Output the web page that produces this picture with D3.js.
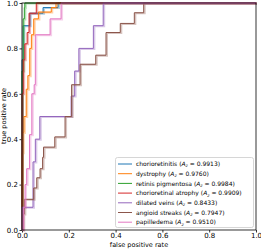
<!DOCTYPE html>
<html>
<head>
<meta charset="utf-8">
<script src="https://cdn.jsdelivr.net/npm/d3@7"></script>
<style>
  body { margin: 0; background: #fff; }
  text { font-family: "DejaVu Sans", sans-serif; }
</style>
</head>
<body>
<script>
const svgWidth = 261;
const svgHeight = 249;

// ROC curves as (fpr, tpr) staircases
const names = ["chorioretinitis", "dystrophy", "retinis pigmentosa", "chorioretinal atrophy",
    "dilated veins", "angioid streaks", "papilledema"];
const aucs = ["0.9913", "0.9760", "0.9984", "0.9909", "0.8433", "0.7947", "0.9510"];
const colors = ["#1f77b4", "#ff7f0e", "#2ca02c", "#d62728", "#9467bd", "#8c564b", "#e377c2"];

const fprBlue = [0, 0, 0.005, 0.005, 0.033, 0.033, 0.09, 0.09, 0.154, 0.154, 1];
const tprBlue = [0, 0.75, 0.75, 0.9, 0.9, 0.955, 0.955, 0.98, 0.98, 1, 1];
const fprOrange = [0, 0, 0.003, 0.003, 0.008, 0.008, 0.018, 0.018, 0.025, 0.025, 0.033, 0.033, 0.04, 0.04, 0.05, 0.05, 0.07, 0.07, 0.125, 0.125, 0.145, 0.145, 1];
const tprOrange = [0, 0.34, 0.34, 0.43, 0.43, 0.5, 0.5, 0.62, 0.62, 0.68, 0.68, 0.8, 0.8, 0.86, 0.86, 0.93, 0.93, 0.96, 0.96, 0.98, 0.98, 1, 1];
const fprGreen = [0, 0, 0.005, 0.005, 0.01, 0.01, 0.012, 0.012, 1];
const tprGreen = [0, 0.7, 0.7, 0.93, 0.93, 0.98, 0.98, 1, 1];
const fprRed = [0, 0, 0.005, 0.005, 0.012, 0.012, 0.022, 0.022, 0.03, 0.03, 0.061, 0.061, 1];
const tprRed = [0, 0.6, 0.6, 0.75, 0.75, 0.82, 0.82, 0.87, 0.87, 0.955, 0.955, 1, 1];
const fprPurple = [0, 0, 0.047, 0.047, 0.057, 0.057, 0.076, 0.076, 0.21, 0.21, 0.225, 0.225, 0.243, 0.243, 0.305, 0.305, 0.347, 0.347, 1];
const tprPurple = [0, 0.1, 0.1, 0.3, 0.3, 0.4, 0.4, 0.5, 0.5, 0.59, 0.59, 0.7, 0.7, 0.8, 0.8, 0.9, 0.9, 1, 1];
const fprBrown = [0, 0.005, 0.005, 0.01, 0.01, 0.05, 0.05, 0.063, 0.063, 0.077, 0.077, 0.088, 0.088, 0.092, 0.092, 0.14, 0.14, 0.184, 0.184, 0.212, 0.212, 0.248, 0.248, 0.315, 0.315, 0.359, 0.359, 0.42, 0.42, 0.48, 0.48, 0.52, 0.52, 1];
const tprBrown = [0, 0, 0.07, 0.07, 0.135, 0.135, 0.185, 0.185, 0.23, 0.23, 0.27, 0.27, 0.32, 0.32, 0.365, 0.365, 0.41, 0.41, 0.5, 0.5, 0.64, 0.64, 0.73, 0.73, 0.77, 0.77, 0.87, 0.87, 0.91, 0.91, 0.957, 0.957, 1, 1];
const fprPink = [0, 0.005, 0.005, 0.013, 0.013, 0.02, 0.02, 0.032, 0.032, 0.042, 0.042, 0.052, 0.052, 0.057, 0.057, 0.12, 0.12, 0.167, 0.167, 1];
const tprPink = [0, 0, 0.1, 0.1, 0.2, 0.2, 0.27, 0.27, 0.42, 0.42, 0.6, 0.6, 0.64, 0.64, 0.86, 0.86, 0.93, 0.93, 1, 1];

const fprs = [fprBlue, fprOrange, fprGreen, fprRed, fprPurple, fprBrown, fprPink];
const tprs = [tprBlue, tprOrange, tprGreen, tprRed, tprPurple, tprBrown, tprPink];
const ticks = [0, 0.2, 0.4, 0.6, 0.8, 1.0];

const svg = d3.select("body").append("svg").attr("width", svgWidth).attr("height", svgHeight);

const x = d3.scaleLinear().domain([0, 1]).range([22, 256]);
const y = d3.scaleLinear().domain([0, 1]).range([230, 3]);

const line = d3.line()
    .x(function (d) { return x(d[0]); })
    .y(function (d) { return y(d[1]); });

const curves = names.map(function (n, i) {
    return fprs[i].map(function (f, j) { return [f, tprs[i][j]]; });
});

// axes
const xAxis = svg.append("g").attr("transform", "translate(0,230)")
    .call(d3.axisBottom(x).tickValues(ticks).tickFormat(d3.format(".1f")).tickSize(2.5).tickPadding(1));
const yAxis = svg.append("g").attr("transform", "translate(22,0)")
    .call(d3.axisLeft(y).tickValues(ticks).tickFormat(d3.format(".1f")).tickSize(2.5).tickPadding(1.5));
[xAxis, yAxis].forEach(function (a) {
    a.select(".domain").remove();
    a.selectAll("line").attr("stroke", "#000").attr("stroke-width", 0.8);
    a.selectAll("text").attr("font-size", 7).attr("fill", "#000")
        .style("font-family", "'DejaVu Sans', sans-serif");
});

// curves: light shadow under a thin line
curves.forEach(function (c, i) {
    svg.append("path").datum(c)
        .attr("d", line)
        .attr("transform", "translate(1,0.5)")
        .attr("fill", "none")
        .attr("stroke", colors[i])
        .attr("stroke-opacity", 0.35)
        .attr("stroke-width", 2);
    svg.append("path").datum(c)
        .attr("d", line)
        .attr("fill", "none")
        .attr("stroke", colors[i])
        .attr("stroke-width", 1);
});

// frame
svg.append("rect")
    .attr("x", 22).attr("y", 3)
    .attr("width", 234).attr("height", 227)
    .attr("fill", "none")
    .attr("stroke", "#000")
    .attr("stroke-width", 0.8);

// axis labels
svg.append("text")
    .attr("x", 139).attr("y", 247)
    .attr("text-anchor", "middle")
    .attr("font-size", 6.5)
    .text("false positive rate");
svg.append("text")
    .attr("transform", "translate(5.5,116) rotate(-90)")
    .attr("text-anchor", "middle")
    .attr("font-size", 6.5)
    .text("true positive rate");

// legend
const legend = svg.append("g");
legend.append("rect")
    .attr("x", 115.5).attr("y", 157.5)
    .attr("width", 138).attr("height", 70)
    .attr("rx", 2)
    .attr("fill", "#fff")
    .attr("fill-opacity", 0.8)
    .attr("stroke", "#ccc")
    .attr("stroke-width", 0.8);

names.forEach(function (n, i) {
    const ry = 164 + i * 9.7;
    legend.append("line")
        .attr("x1", 118).attr("x2", 132)
        .attr("y1", ry).attr("y2", ry)
        .attr("stroke", colors[i])
        .attr("stroke-width", 1);
    const t = legend.append("text")
        .attr("x", 136).attr("y", ry + 2.2)
        .attr("font-size", 6);
    t.append("tspan").text(n + " (");
    t.append("tspan").attr("font-style", "italic").text("A");
    t.append("tspan").attr("font-style", "italic").attr("font-size", 4.3).attr("dy", 1.2).text("z");
    t.append("tspan").attr("dy", -1.2).text(" = " + aucs[i] + ")");
});
</script>
</body>
</html>
